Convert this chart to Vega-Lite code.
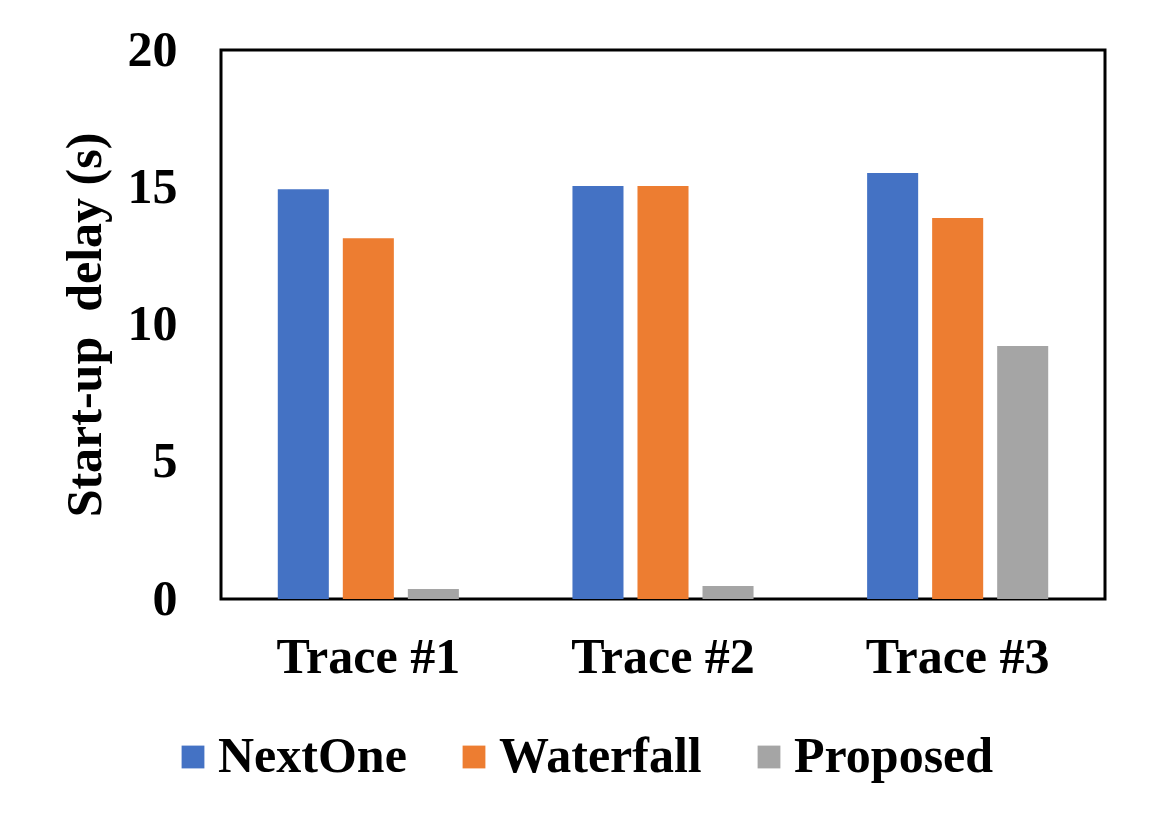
{
  "$schema": "https://vega.github.io/schema/vega-lite/v6.json",
  "autosize": "none",
  "padding": {"left": 221, "top": 50, "right": 50, "bottom": 226},
  "width": 884,
  "height": 549,
  "background": "white",
  "config": {
    "font": "Liberation Serif",
    "view": {"stroke": "black", "strokeWidth": 3},
    "axis": {"grid": false, "ticks": false, "domain": false, "labelColor": "black", "titleColor": "black"}
  },
  "data": {
    "values": [
      {"trace": "Trace #1", "method": "NextOne", "delay": 14.93},
      {"trace": "Trace #1", "method": "Waterfall", "delay": 13.14},
      {"trace": "Trace #1", "method": "Proposed", "delay": 0.36},
      {"trace": "Trace #2", "method": "NextOne", "delay": 15.05},
      {"trace": "Trace #2", "method": "Waterfall", "delay": 15.05},
      {"trace": "Trace #2", "method": "Proposed", "delay": 0.47},
      {"trace": "Trace #3", "method": "NextOne", "delay": 15.52},
      {"trace": "Trace #3", "method": "Waterfall", "delay": 13.88},
      {"trace": "Trace #3", "method": "Proposed", "delay": 9.22}
    ]
  },
  "mark": {"type": "bar"},
  "encoding": {
    "x": {
      "field": "trace", "type": "nominal",
      "scale": {"paddingInner": 0.338, "paddingOuter": 0.169},
      "axis": {"title": null, "labelAngle": 0, "labelFont": "Liberation Serif", "labelFontWeight": "bold", "labelFontSize": 50, "labelPadding": 33, "labelLimit": 0}
    },
    "xOffset": {
      "field": "method", "type": "nominal",
      "sort": ["NextOne", "Waterfall", "Proposed"],
      "scale": {"paddingInner": 0.215, "paddingOuter": 0.1075}
    },
    "y": {
      "field": "delay", "type": "quantitative",
      "scale": {"domain": [0, 20], "nice": false},
      "axis": {
        "title": "Start-up\u00a0 delay (s)", "values": [0, 5, 10, 15, 20],
        "labelFont": "Liberation Serif", "labelFontWeight": "bold", "labelFontSize": 50, "labelPadding": 44,
        "titleFont": "Liberation Serif", "titleFontWeight": "bold", "titleFontSize": 50, "titlePadding": 17
      }
    },
    "color": {
      "field": "method", "type": "nominal",
      "sort": ["NextOne", "Waterfall", "Proposed"],
      "scale": {"domain": ["NextOne", "Waterfall", "Proposed"], "range": ["#4472C4", "#ED7D31", "#A5A5A5"]},
      "legend": {
        "title": null, "orient": "none", "direction": "horizontal",
        "legendX": -53, "legendY": 682, "padding": 0,
        "symbolType": "square", "symbolSize": 520, "symbolStrokeWidth": 0, "symbolOpacity": 1,
        "labelFont": "Liberation Serif", "labelFontWeight": "bold", "labelFontSize": 50, "labelColor": "black",
        "labelOffset": 0, "columnPadding": 42, "labelLimit": 0
      }
    }
  }
}
